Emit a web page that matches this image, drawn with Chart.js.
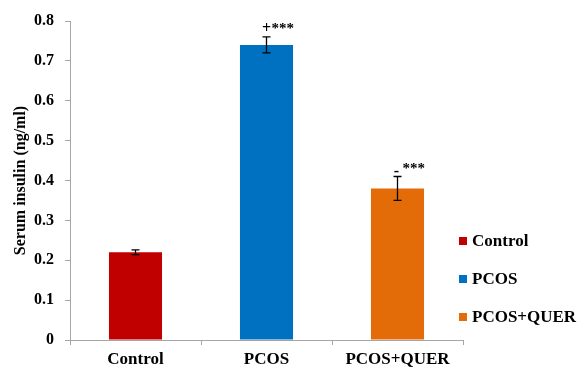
<!DOCTYPE html>
<html>
<head>
<meta charset="utf-8">
<script src="https://cdn.jsdelivr.net/npm/chart.js@4.4.0/dist/chart.umd.min.js"></script>
<style>
  html, body { margin: 0; padding: 0; background: #fff; }
  #wrap { width: 579px; height: 367px; position: relative; }
</style>
</head>
<body>
<div id="wrap"><canvas id="insulinChart"></canvas></div>
<script>
const groups = ['Control', 'PCOS', 'PCOS+QUER'];
const insulin = [0.22, 0.74, 0.38];
const insulinErr = [0.006, 0.02, 0.03];
const marks = ['', '+***', '-***'];
const barColors = ['#C00000', '#0070C0', '#E36C09'];
const yTickLabels = ['0', '0.1', '0.2', '0.3', '0.4', '0.5', '0.6', '0.7', '0.8'];

const serif = "'Liberation Serif', 'Times New Roman', serif";

// error bars + significance marks
const errorBars = {
  id: 'errorBars',
  afterDatasetsDraw(chart) {
    const ctx = chart.ctx;
    const y = chart.scales.y;
    const meta = chart.getDatasetMeta(0);
    ctx.save();
    ctx.strokeStyle = '#000';
    ctx.lineWidth = 1.3;
    meta.data.forEach((bar, i) => {
      const x = bar.x;
      const top = y.getPixelForValue(insulin[i] + insulinErr[i]);
      const bot = y.getPixelForValue(insulin[i] - insulinErr[i]);
      ctx.beginPath();
      ctx.moveTo(x, top); ctx.lineTo(x, bot);
      ctx.moveTo(x - 4, top); ctx.lineTo(x + 4, top);
      ctx.moveTo(x - 4, bot); ctx.lineTo(x + 4, bot);
      ctx.stroke();

      const m = marks[i];
      if (!m) return;
      const sign = m[0];
      const stars = m.slice(1);
      ctx.fillStyle = '#000';
      ctx.textAlign = 'center';
      ctx.textBaseline = 'middle';
      ctx.font = 'bold 16px ' + serif;
      if (sign === '+') ctx.fillText(sign, x, top - 8);
      else ctx.fillText(sign, x - 1, top - 4.5);
      ctx.textAlign = 'left';
      ctx.textBaseline = 'top';
      ctx.font = 'bold 15px ' + serif;
      ctx.fillText(stars, x + 5, top - 15);
    });
    ctx.restore();
  }
};

// legend on the right with small squares
const sideLegend = {
  id: 'sideLegend',
  afterDraw(chart) {
    const ctx = chart.ctx;
    const x0 = chart.chartArea.right - 4;
    const yStart = 241;
    const gap = 38;
    ctx.save();
    ctx.font = 'bold 17px ' + serif;
    ctx.textBaseline = 'middle';
    ctx.textAlign = 'left';
    groups.forEach((g, i) => {
      const yc = yStart + i * gap;
      ctx.fillStyle = barColors[i];
      ctx.fillRect(x0, yc - 4, 8, 8);
      ctx.fillStyle = '#000';
      ctx.fillText(g, x0 + 13, yc + 1);
    });
    ctx.restore();
  }
};

new Chart(document.getElementById('insulinChart').getContext('2d'), {
  type: 'bar',
  data: {
    labels: groups,
    datasets: [{
      data: insulin,
      backgroundColor: barColors,
      borderWidth: 0,
      categoryPercentage: 1,
      barPercentage: 0.405
    }]
  },
  options: {
    responsive: true,
    maintainAspectRatio: false,
    animation: false,
    layout: { padding: { top: 21, right: 116, left: 0, bottom: 0 } },
    plugins: {
      legend: { display: false },
      tooltip: { enabled: false }
    },
    scales: {
      x: {
        afterFit(scale) { scale.height = 27; },
        grid: {
          drawOnChartArea: false,
          offset: true,
          tickLength: 5,
          color: '#A6A6A6'
        },
        border: { color: '#A6A6A6', width: 1 },
        ticks: {
          color: '#000',
          padding: 4,
          font: { family: serif, size: 17, weight: 'bold' }
        }
      },
      y: {
        min: 0,
        max: 0.8,
        afterFit(scale) { scale.width = 70; },
        grid: {
          drawOnChartArea: false,
          tickLength: 5,
          color: '#A6A6A6'
        },
        border: { color: '#A6A6A6', width: 1 },
        ticks: {
          stepSize: 0.1,
          color: '#000',
          padding: 11,
          font: { family: serif, size: 16, weight: 'bold' },
          callback: (v, i) => yTickLabels[i]
        },
        title: {
          display: true,
          text: 'Serum insulin (ng/ml)',
          color: '#000',
          padding: { top: 11, bottom: 0 },
          font: { family: serif, size: 16, weight: 'bold' }
        }
      }
    }
  },
  plugins: [errorBars, sideLegend]
});
</script>
</body>
</html>
